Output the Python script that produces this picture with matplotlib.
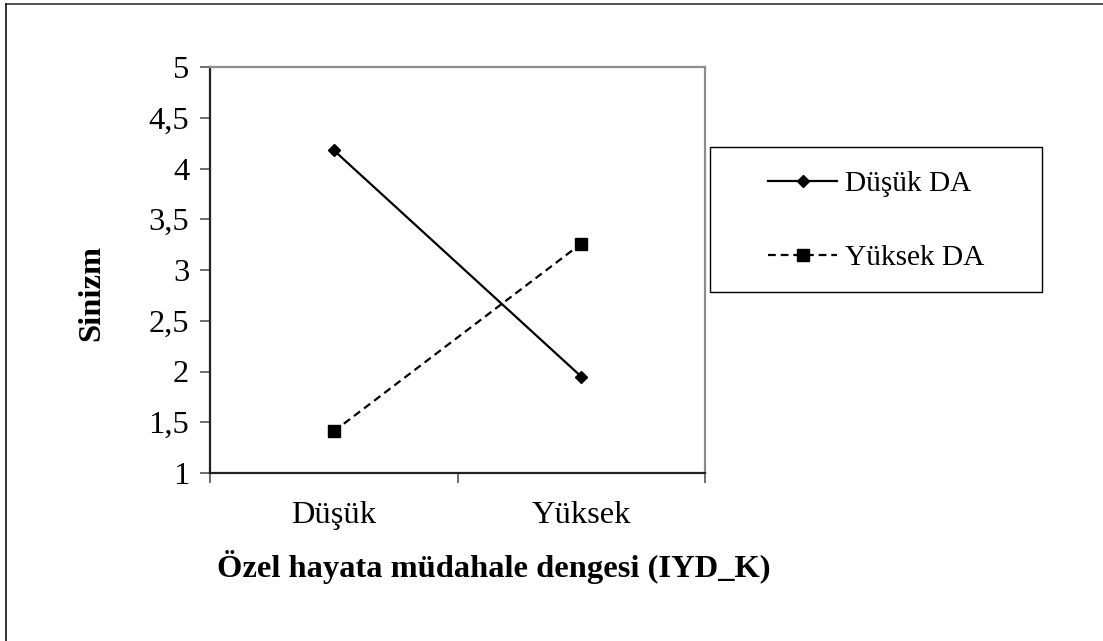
import matplotlib
matplotlib.use("Agg")
import matplotlib.pyplot as plt
from matplotlib.lines import Line2D
from matplotlib.patches import Rectangle

categories = ["Düşük", "Yüksek"]
series_names = ["Düşük DA", "Yüksek DA"]
dusuk_da = [4.18, 1.95]
yuksek_da = [1.41, 3.26]
yticks = [1, 1.5, 2, 2.5, 3, 3.5, 4, 4.5, 5]
ytick_labels = ["1", "1,5", "2", "2,5", "3", "3,5", "4", "4,5", "5"]
xlabel = "Özel hayata müdahale dengesi (IYD_K)"
ylabel = "Sinizm"

plt.rcParams['font.family'] = ['Liberation Serif', 'DejaVu Serif']

W, H = 1103, 641
FS = 23.4
fig = plt.figure(figsize=(W / 100, H / 100), dpi=100)
fig.patch.set_facecolor("white")

# outer frame (top and left visible)
fig.add_artist(Line2D([6 / W, 1.2], [1 - 3.5 / H, 1 - 3.5 / H], color="#333333", lw=1.2, transform=fig.transFigure))
fig.add_artist(Line2D([6 / W, 6 / W], [1 - 3.5 / H, -0.2], color="#111111", lw=1.2, transform=fig.transFigure))

ax = fig.add_axes([210 / W, 1 - 473 / H, (705 - 210) / W, (473 - 67) / H])
x = list(range(len(categories)))
l1, = ax.plot(x, dusuk_da, color="black", lw=1.6, marker="D", markersize=6.5, label=series_names[0])
l2, = ax.plot(x, yuksek_da, color="black", lw=1.6, ls=(0, (3.5, 2.2)), marker="s", markersize=8, label=series_names[1])

ax.set_xlim(-0.5, len(categories) - 0.5)
ax.set_ylim(1, 5)
ax.set_yticks(yticks)
ax.set_yticklabels(ytick_labels)
ax.set_xticks(x)
ax.set_xticklabels(categories)
ax.set_xticks([i - 0.5 for i in range(len(categories) + 1)], minor=True)
ax.tick_params(axis="x", which="major", length=0, pad=20, labelsize=FS)
ax.tick_params(axis="x", which="minor", length=7, width=1.2, direction="out", color="#555555")
ax.tick_params(axis="y", length=7, width=1.2, direction="out", pad=8, labelsize=FS, color="#555555")

for s in ["left", "bottom"]:
    ax.spines[s].set_color("#222222")
    ax.spines[s].set_linewidth(1.6)
for s in ["top", "right"]:
    ax.spines[s].set_color("#8c8c8c")
    ax.spines[s].set_linewidth(1.6)

ax.set_ylabel(ylabel, fontsize=FS, fontweight="bold", va="center")
ax.yaxis.set_label_coords((92 - 210) / 495, (473 - 293) / 406)
fig.text(494 / W, 1 - 567 / H, xlabel, fontsize=FS, fontweight="bold", ha="center", va="center")

# legend box
fig.add_artist(Rectangle((710 / W, 1 - 292 / H), (1042 - 710) / W, (292 - 147) / H,
                         transform=fig.transFigure, fill=False, ec="black", lw=1.0))
leg = fig.legend(handles=[l1, l2], loc="center left", bbox_to_anchor=(768 / W, 1 - 221 / H),
                 frameon=False, fontsize=21.2, handlelength=2.35, handletextpad=0.25,
                 labelspacing=1.62, borderpad=0, borderaxespad=0)

fig.savefig("out.png", dpi=100, facecolor="white")
